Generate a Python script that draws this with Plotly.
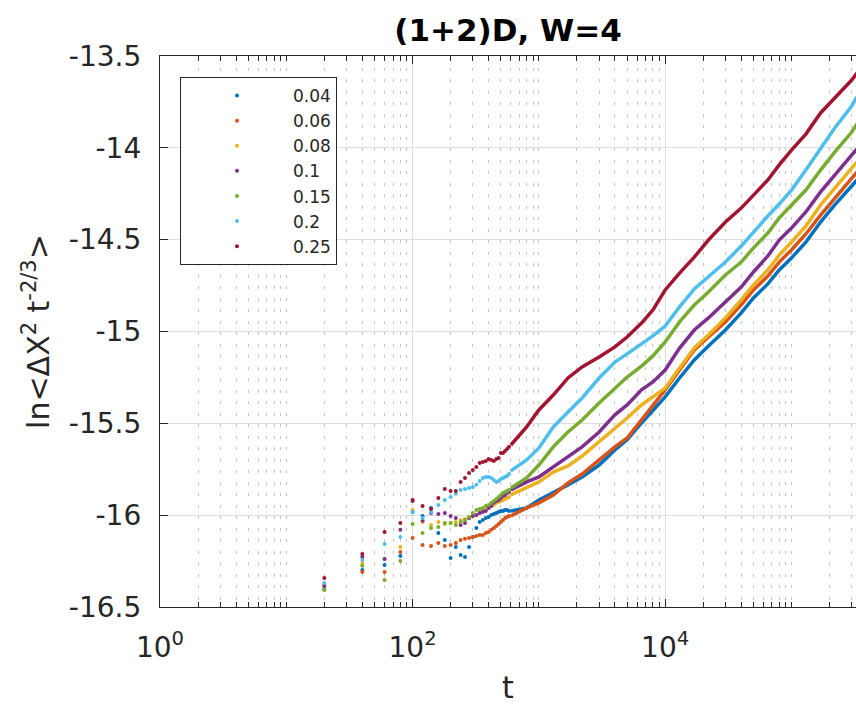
import plotly.graph_objects as go

# ---------------- data ----------------
LABELS = ["0.04", "0.06", "0.08", "0.1", "0.15", "0.2", "0.25"]
COLORS = ["#0072BD", "#D95319", "#EDB120", "#7E2F8E", "#77AC30", "#4DBEEE", "#A2142F"]

# early, sparse sampling times (drawn as dots)
T_EARLY = [20, 40, 60, 80, 100, 120, 140, 160, 180, 200, 220, 240, 260, 280, 300,
           320, 340, 360, 380, 400, 420, 440, 460, 480, 500, 520, 540, 560, 580]
# later times, where the dots merge into a thick curve
T_LATE = [600, 800, 1000, 1300, 1700, 2200, 3000, 4000, 5000, 6500, 8000, 10000,
          13000, 17000, 22000, 30000, 40000, 50000, 65000, 80000, 100000, 130000,
          170000, 220000, 300000, 330000]

EARLY_004 = [-16.402, -16.298, -16.271, -16.222, -15.983, -16.004, -15.961, -16.097, -16.135, -16.233,
             -16.173, -16.217, -16.228, -16.173, -16.119, -16.070, -16.037, -16.026, -16.015, -16.010,
             -15.999, -15.993, -15.988, -15.983, -15.977, -15.977, -15.972, -15.972, -15.977]
EARLY_006 = [-16.380, -16.309, -16.309, -16.200, -16.124, -16.162, -16.168, -16.151, -16.168, -16.162,
             -16.151, -16.135, -16.129, -16.124, -16.119, -16.113, -16.108, -16.108, -16.097, -16.091,
             -16.080, -16.070, -16.059, -16.048, -16.037, -16.026, -16.015, -16.010, -16.004]
EARLY_008 = [-16.391, -16.260, -16.238, -16.173, -15.972, -16.037, -16.053, -16.037, -16.048, -16.042,
             -16.037, -16.026, -16.021, -16.015, -16.004, -15.999, -15.988, -15.977, -15.972, -15.961,
             -15.950, -15.944, -15.933, -15.928, -15.923, -15.917, -15.912, -15.906, -15.901]
EARLY_010 = [-16.385, -16.228, -16.238, -16.080, -15.923, -16.031, -15.988, -15.993, -15.988, -16.004,
             -16.015, -16.053, -16.042, -16.015, -16.004, -15.999, -15.988, -15.983, -15.977, -15.961,
             -15.950, -15.933, -15.923, -15.917, -15.906, -15.895, -15.890, -15.879, -15.874]
EARLY_015 = [-16.407, -16.276, -16.353, -16.249, -16.048, -16.097, -16.070, -16.064, -16.042, -16.042,
             -16.053, -16.037, -16.026, -16.010, -15.988, -15.972, -15.966, -15.961, -15.950, -15.944,
             -15.933, -15.923, -15.912, -15.901, -15.890, -15.879, -15.874, -15.868, -15.863]
EARLY_020 = [-16.369, -16.244, -16.157, -16.119, -15.983, -16.015, -15.983, -15.944, -15.917, -15.901,
             -15.884, -15.863, -15.857, -15.852, -15.846, -15.835, -15.814, -15.797, -15.792, -15.792,
             -15.797, -15.808, -15.819, -15.814, -15.803, -15.797, -15.792, -15.787, -15.776]
EARLY_025 = [-16.342, -16.211, -16.091, -16.042, -15.917, -15.950, -15.966, -15.906, -15.857, -15.868,
             -15.868, -15.819, -15.797, -15.770, -15.754, -15.738, -15.716, -15.710, -15.705, -15.694,
             -15.699, -15.705, -15.694, -15.689, -15.661, -15.661, -15.650, -15.640, -15.628]

LATE_004 = [-15.977, -15.961, -15.917, -15.879, -15.835, -15.792, -15.727, -15.645, -15.590, -15.498,
            -15.427, -15.356, -15.253, -15.155, -15.079, -14.992, -14.899, -14.817, -14.741, -14.665,
            -14.600, -14.513, -14.404, -14.311, -14.208, -14.175]
LATE_006 = [-16.004, -15.961, -15.933, -15.890, -15.824, -15.776, -15.699, -15.628, -15.580, -15.482,
            -15.400, -15.318, -15.210, -15.101, -15.030, -14.948, -14.855, -14.774, -14.698, -14.622,
            -14.556, -14.469, -14.366, -14.273, -14.164, -14.132]
LATE_008 = [-15.890, -15.852, -15.819, -15.765, -15.732, -15.678, -15.601, -15.525, -15.471, -15.400,
            -15.356, -15.308, -15.199, -15.090, -15.019, -14.926, -14.828, -14.747, -14.665, -14.584,
            -14.513, -14.426, -14.311, -14.219, -14.110, -14.077]
LATE_010 = [-15.863, -15.819, -15.792, -15.738, -15.683, -15.628, -15.547, -15.454, -15.400, -15.318,
            -15.275, -15.210, -15.090, -14.992, -14.926, -14.839, -14.758, -14.676, -14.589, -14.502,
            -14.437, -14.349, -14.240, -14.148, -14.039, -14.006]
LATE_015 = [-15.852, -15.797, -15.727, -15.628, -15.547, -15.482, -15.389, -15.308, -15.248, -15.188,
            -15.133, -15.057, -14.948, -14.855, -14.785, -14.692, -14.622, -14.545, -14.464, -14.382,
            -14.311, -14.230, -14.121, -14.023, -13.914, -13.870]
LATE_020 = [-15.759, -15.699, -15.634, -15.520, -15.438, -15.362, -15.253, -15.166, -15.122, -15.068,
            -15.024, -14.970, -14.866, -14.768, -14.703, -14.622, -14.535, -14.458, -14.371, -14.306,
            -14.230, -14.121, -14.001, -13.892, -13.772, -13.723]
LATE_025 = [-15.618, -15.520, -15.427, -15.346, -15.253, -15.193, -15.139, -15.084, -15.030, -14.954,
            -14.883, -14.774, -14.682, -14.595, -14.502, -14.404, -14.328, -14.257, -14.175, -14.093,
            -14.012, -13.925, -13.810, -13.729, -13.631, -13.593]

EARLY = [EARLY_004, EARLY_006, EARLY_008, EARLY_010, EARLY_015, EARLY_020, EARLY_025]
LATE = [LATE_004, LATE_006, LATE_008, LATE_010, LATE_015, LATE_020, LATE_025]

Y_TICKS = [-16.5, -16, -15.5, -15, -14.5, -14, -13.5]
Y_TICKTEXT = ["-16.5", "-16", "-15.5", "-15", "-14.5", "-14", "-13.5"]
X_TICKS = [1, 100, 10000]
X_TICKTEXT = ["10<sup>0</sup>", "10<sup>2</sup>", "10<sup>4</sup>"]
X_MINOR = [d * 10 ** k for k in range(0, 6) for d in range(1, 10)
           if not (d == 1 and k % 2 == 0)]

FONT = "DejaVu Sans"
TXT = "#262626"

fig = go.Figure()
for lab, col, ye, yl in zip(LABELS, COLORS, EARLY, LATE):
    fig.add_trace(go.Scatter(x=T_EARLY, y=ye, mode="markers", name=lab,
                             marker=dict(color=col, size=4), showlegend=True))
    fig.add_trace(go.Scatter(x=T_LATE, y=yl, mode="lines", name=lab,
                             line=dict(color=col, width=3.5), showlegend=False))

fig.update_layout(
    width=856, height=705,
    margin=dict(l=160, r=0, t=56, b=98, autoexpand=False),
    paper_bgcolor="white", plot_bgcolor="white",
    font=dict(family=FONT, color=TXT),
    title=dict(text="<b>(1+2)D, W=4</b>", x=0.5, xref="paper", xanchor="center",
               y=1 - 30 / 705, yref="container", yanchor="middle",
               font=dict(family=FONT, size=31, color="black")),
    legend=dict(x=20 / 696, y=1 - 21 / 551, xanchor="left", yanchor="top",
                bgcolor="white", bordercolor=TXT, borderwidth=1,
                font=dict(family=FONT, size=17, color=TXT),
                itemwidth=102, traceorder="normal"),
    showlegend=True,
)

fig.update_xaxes(
    type="log", range=[0, 5.511], automargin=False,
    tickmode="array", tickvals=X_TICKS, ticktext=X_TICKTEXT,
    ticks="inside", ticklen=8, tickwidth=1, tickcolor=TXT,
    showline=True, linecolor=TXT, linewidth=1.3, mirror="ticks",
    showgrid=True, gridcolor="#dedede", gridwidth=1, zeroline=False,
    tickfont=dict(family=FONT, size=28, color=TXT), ticklabelstandoff=15,
    minor=dict(tickmode="array", tickvals=X_MINOR, ticks="inside", ticklen=5,
               tickwidth=1, tickcolor=TXT, showgrid=True, gridcolor="#c4c4c4",
               griddash="3px,8.5px", gridwidth=1),
    title=dict(text="t", font=dict(family=FONT, size=30, color=TXT), standoff=16),
)
fig.update_yaxes(
    range=[-16.5, -13.5], automargin=False,
    tickmode="array", tickvals=Y_TICKS, ticktext=Y_TICKTEXT,
    ticks="inside", ticklen=8, tickwidth=1, tickcolor=TXT,
    showline=True, linecolor=TXT, linewidth=1.3, mirror=False,
    showgrid=True, gridcolor="#dedede", gridwidth=1, zeroline=False,
    tickfont=dict(family=FONT, size=28, color=TXT), ticklabelstandoff=12,
    title=dict(text="ln&lt;ΔX<sup>2</sup> t<sup>-2/3</sup>&gt;",
               font=dict(family=FONT, size=30, color=TXT), standoff=10),
)

fig.write_html("out.html")
